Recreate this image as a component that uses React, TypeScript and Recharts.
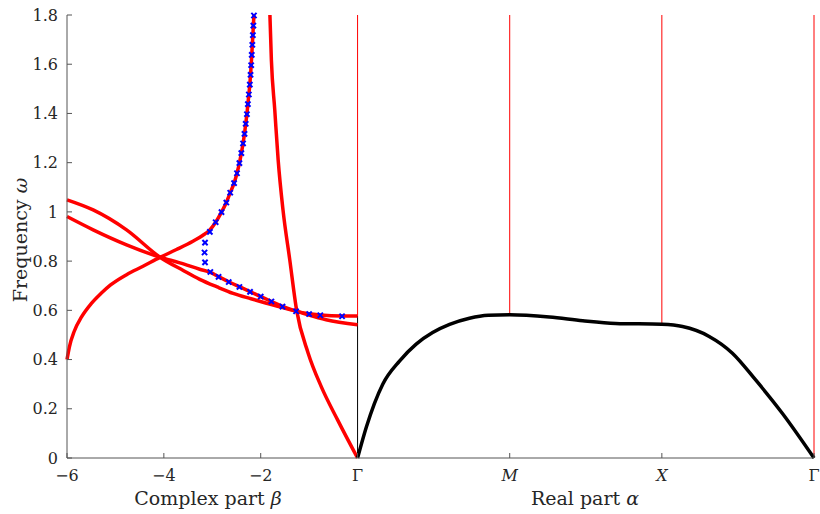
import React from 'react';
import { ComposedChart, Line, Scatter, XAxis, YAxis } from 'recharts';

type Pt = { x: number; y: number };

const PI = Math.PI;

// Left half: complex part beta (x from -6 to 0)
const curveA: Pt[] = [
  { x: -6, y: 0.4 }, { x: -5.95, y: 0.452 }, { x: -5.85, y: 0.515 }, { x: -5.7, y: 0.573 },
  { x: -5.5, y: 0.627 }, { x: -5.3, y: 0.668 }, { x: -5.1, y: 0.703 }, { x: -4.77, y: 0.745 },
  { x: -4.43, y: 0.779 }, { x: -4.08, y: 0.815 }, { x: -3.74, y: 0.847 }, { x: -3.4, y: 0.881 },
  { x: -3.2, y: 0.904 }, { x: -3.05, y: 0.927 }, { x: -2.93, y: 0.958 }, { x: -2.81, y: 0.999 },
  { x: -2.71, y: 1.038 }, { x: -2.63, y: 1.078 }, { x: -2.55, y: 1.117 }, { x: -2.49, y: 1.157 },
  { x: -2.44, y: 1.198 }, { x: -2.4, y: 1.239 }, { x: -2.365, y: 1.278 }, { x: -2.335, y: 1.317 },
  { x: -2.31, y: 1.358 }, { x: -2.285, y: 1.397 }, { x: -2.265, y: 1.438 }, { x: -2.245, y: 1.477 },
  { x: -2.225, y: 1.517 }, { x: -2.21, y: 1.557 }, { x: -2.197, y: 1.596 }, { x: -2.185, y: 1.638 },
  { x: -2.173, y: 1.679 }, { x: -2.162, y: 1.718 }, { x: -2.152, y: 1.757 }, { x: -2.14, y: 1.8 },
];

const curveB: Pt[] = [
  { x: -6, y: 1.049 }, { x: -5.46, y: 1.008 }, { x: -4.77, y: 0.927 }, { x: -4.08, y: 0.816 },
  { x: -3.6, y: 0.762 }, { x: -3.26, y: 0.726 }, { x: -2.9, y: 0.695 }, { x: -2.57, y: 0.669 },
  { x: -2.2, y: 0.647 }, { x: -1.88, y: 0.629 }, { x: -1.26, y: 0.596 }, { x: -0.65, y: 0.562 },
  { x: 0, y: 0.541 },
];

const curveC: Pt[] = [
  { x: -6, y: 0.981 }, { x: -5.46, y: 0.927 }, { x: -4.77, y: 0.866 }, { x: -4.08, y: 0.816 },
  { x: -3.67, y: 0.793 }, { x: -3.26, y: 0.767 }, { x: -3.04, y: 0.754 }, { x: -2.87, y: 0.737 },
  { x: -2.66, y: 0.716 }, { x: -2.44, y: 0.696 }, { x: -2.22, y: 0.676 }, { x: -2.0, y: 0.656 },
  { x: -1.78, y: 0.636 }, { x: -1.55, y: 0.616 }, { x: -1.27, y: 0.597 }, { x: -1.0, y: 0.586 },
  { x: -0.77, y: 0.581 }, { x: -0.32, y: 0.577 }, { x: 0, y: 0.577 },
];

const curveD: Pt[] = [
  { x: -1.81, y: 1.8 }, { x: -1.78, y: 1.618 }, { x: -1.71, y: 1.415 }, { x: -1.64, y: 1.211 },
  { x: -1.54, y: 1.008 }, { x: -1.4, y: 0.805 }, { x: -1.26, y: 0.602 }, { x: -1.02, y: 0.426 },
  { x: -0.75, y: 0.29 }, { x: -0.41, y: 0.154 }, { x: 0, y: 0 },
];

// blue markers (numerical solution)
const markers: Pt[] = [
  { x: -0.32, y: 0.576 }, { x: -0.77, y: 0.58 }, { x: -1.0, y: 0.585 }, { x: -1.27, y: 0.596 },
  { x: -1.55, y: 0.615 }, { x: -1.78, y: 0.636 }, { x: -2.0, y: 0.656 }, { x: -2.22, y: 0.675 },
  { x: -2.44, y: 0.695 }, { x: -2.66, y: 0.715 }, { x: -2.87, y: 0.736 }, { x: -3.04, y: 0.756 },
  { x: -3.15, y: 0.795 }, { x: -3.16, y: 0.835 }, { x: -3.15, y: 0.875 }, { x: -3.05, y: 0.919 },
  { x: -2.93, y: 0.958 }, { x: -2.81, y: 0.999 }, { x: -2.71, y: 1.038 }, { x: -2.63, y: 1.078 },
  { x: -2.55, y: 1.117 }, { x: -2.49, y: 1.157 }, { x: -2.44, y: 1.198 }, { x: -2.4, y: 1.239 },
  { x: -2.365, y: 1.278 }, { x: -2.335, y: 1.317 }, { x: -2.31, y: 1.358 }, { x: -2.285, y: 1.397 },
  { x: -2.265, y: 1.438 }, { x: -2.245, y: 1.477 }, { x: -2.225, y: 1.517 }, { x: -2.21, y: 1.557 },
  { x: -2.197, y: 1.596 }, { x: -2.185, y: 1.638 }, { x: -2.173, y: 1.679 }, { x: -2.162, y: 1.718 },
  { x: -2.152, y: 1.757 }, { x: -2.14, y: 1.798 },
];

// Right half: real part alpha along Gamma-M-X-Gamma (segments of length pi)
const realBranch: Pt[] = [
  { x: 0, y: 0 }, { x: 0.18, y: 0.125 }, { x: 0.52, y: 0.3 }, { x: 0.87, y: 0.395 },
  { x: 1.21, y: 0.463 }, { x: 1.55, y: 0.51 }, { x: 1.9, y: 0.543 }, { x: 2.31, y: 0.568 },
  { x: 2.7, y: 0.58 }, { x: PI, y: 0.582 }, { x: 3.96, y: 0.573 }, { x: 4.65, y: 0.558 },
  { x: 5.33, y: 0.547 }, { x: 2 * PI, y: 0.543 }, { x: 6.71, y: 0.534 }, { x: 7.26, y: 0.494 },
  { x: 7.74, y: 0.426 }, { x: 8.22, y: 0.317 }, { x: 8.77, y: 0.182 }, { x: 3 * PI, y: 0 },
];

// thin vertical markers at the symmetry points
const gamma0Red: Pt[] = [{ x: 0, y: 0.577 }, { x: 0, y: 1.8 }];
const gamma0Black: Pt[] = [{ x: 0, y: 0 }, { x: 0, y: 0.577 }];
const mRed: Pt[] = [{ x: PI, y: 0.582 }, { x: PI, y: 1.8 }];
const xRed: Pt[] = [{ x: 2 * PI, y: 0.543 }, { x: 2 * PI, y: 1.8 }];
const gamma1Red: Pt[] = [{ x: 3 * PI, y: 0 }, { x: 3 * PI, y: 1.8 }];

const xTicks = [-6, -4, -2, 0, PI, 2 * PI, 3 * PI];
const xTickLabels = ['\u22126', '\u22124', '\u22122', '\u0393', 'M', 'X', '\u0393'];
const yTicks = [0, 0.2, 0.4, 0.6, 0.8, 1, 1.2, 1.4, 1.6, 1.8];

const FONT = '"DejaVu Serif", serif';
const TEXT = '#262626';
const AXIS = '#555555';

const XTick = (props: any) => {
  const { x, y, payload } = props;
  const i = xTicks.findIndex((t) => Math.abs(t - payload.value) < 1e-6);
  const label = xTickLabels[i] ?? '';
  const italic = label === 'M' || label === 'X';
  return (
    <text x={x} y={y} dy="0.71em" textAnchor="middle" fill={TEXT} fontFamily={FONT} fontSize={16}
      fontStyle={italic ? 'italic' : 'normal'}>
      {label}
    </text>
  );
};

const XMark = (props: any) => {
  const { cx, cy } = props;
  const s = 2.6;
  return (
    <g stroke="#0000ff" strokeWidth={2}>
      <line x1={cx - s} y1={cy - s} x2={cx + s} y2={cy + s} />
      <line x1={cx - s} y1={cy + s} x2={cx + s} y2={cy - s} />
    </g>
  );
};

const thick = { stroke: '#ff0000', strokeWidth: 3.5, dot: false, isAnimationActive: false } as const;
const thin = { stroke: '#ff0000', strokeWidth: 1, dot: false, isAnimationActive: false, type: 'linear' } as const;

const label = { position: 'absolute', fontSize: 19, color: TEXT, lineHeight: '24px', textAlign: 'center' } as const;

export default function App() {
  return (
    <div style={{ position: 'absolute', left: 0, top: 0, width: 820, height: 514, fontFamily: FONT, background: '#fff' }}>
      <ComposedChart width={820} height={514} margin={{ top: 15, right: 6, left: 0, bottom: 0 }}>
        <XAxis
          type="number"
          dataKey="x"
          domain={[-6, 3 * PI]}
          ticks={xTicks}
          interval={0}
          height={56}
          tickSize={-5}
          tickMargin={17}
          tick={<XTick />}
          stroke={AXIS}
          axisLine={{ stroke: AXIS }}
          tickLine={{ stroke: AXIS }}
        />
        <YAxis
          type="number"
          dataKey="y"
          domain={[0, 1.8]}
          ticks={yTicks}
          interval={0}
          width={67}
          tickSize={-5}
          tickMargin={14}
          tick={{ fill: TEXT, fontFamily: FONT, fontSize: 16 }}
          tickFormatter={(v: number) => String(Math.round(v * 10) / 10)}
          stroke={AXIS}
        />
        <Line data={gamma0Black} dataKey="y" {...thin} stroke="#000000" />
        <Line data={gamma0Red} dataKey="y" {...thin} />
        <Line data={mRed} dataKey="y" {...thin} />
        <Line data={xRed} dataKey="y" {...thin} />
        <Line data={gamma1Red} dataKey="y" {...thin} />
        <Line data={curveA} dataKey="y" type="monotone" {...thick} />
        <Line data={curveB} dataKey="y" type="monotone" {...thick} />
        <Line data={curveC} dataKey="y" type="monotone" {...thick} />
        <Line data={curveD} dataKey="y" type="monotone" {...thick} />
        <Line data={realBranch} dataKey="y" type="monotone" {...thick} stroke="#000000" />
        <Scatter data={markers} dataKey="y" shape={<XMark />} isAnimationActive={false} />
      </ComposedChart>
      <div style={{ ...label, left: 208 - 108, top: 486, width: 216 }}>
        Complex part <i>β</i>
      </div>
      <div style={{ ...label, left: 585 - 108, top: 486, width: 216 }}>
        Real part <i>α</i>
      </div>
      <div style={{ ...label, left: 20 - 100, top: 240 - 12, width: 200, height: 24, transform: 'rotate(-90deg)' }}>
        Frequency <i>ω</i>
      </div>
    </div>
  );
}
